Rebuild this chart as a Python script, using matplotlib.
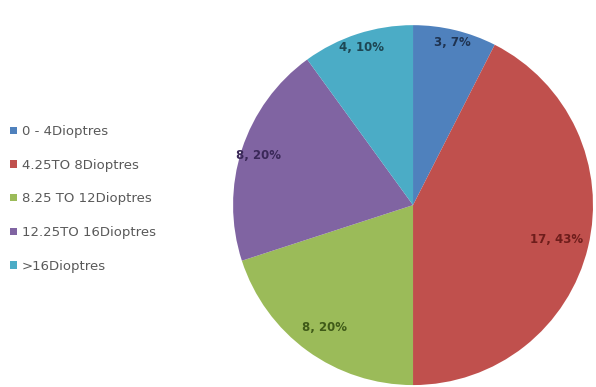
import numpy as np
import matplotlib.pyplot as plt

categories = ["0 - 4Dioptres", "4.25TO 8Dioptres", "8.25 TO 12Dioptres",
              "12.25TO 16Dioptres", ">16Dioptres"]
counts = [3, 17, 8, 8, 4]
pct_labels = ["7%", "43%", "20%", "20%", "10%"]

colors = ["#4F81BD", "#C0504D", "#9BBB59", "#8064A2", "#4BACC6"]
text_colors = ["#1F3350", "#6E1D1B", "#3F5A18", "#3A2858", "#1D4653"]
label_dist = [0.93, 0.82, 0.84, 0.90, 0.92]

fig = plt.figure(figsize=(5.96, 3.87), dpi=100)
ax = fig.add_axes([0.391, 0.005, 0.604, 0.930])

wedges, _ = ax.pie(counts, colors=colors, startangle=90, counterclock=False,
                   radius=1.0)
ax.set_xlim(-1, 1)
ax.set_ylim(-1, 1)
ax.set_aspect("equal")

for w, c, p, d, tc in zip(wedges, counts, pct_labels, label_dist, text_colors):
    ang = np.deg2rad((w.theta1 + w.theta2) / 2)
    ax.text(d * np.cos(ang), d * np.sin(ang), f"{c}, {p}", ha="center",
            va="center", fontsize=8.5, fontweight="bold", color=tc)

fig.legend(wedges, categories, loc="upper left", bbox_to_anchor=(0.008, 0.69),
           frameon=False, fontsize=9.5, labelcolor="#595959", handlelength=0.5,
           handleheight=0.5, handletextpad=0.4, labelspacing=1.56,
           borderaxespad=0)

fig.savefig("out.png", dpi=100)
